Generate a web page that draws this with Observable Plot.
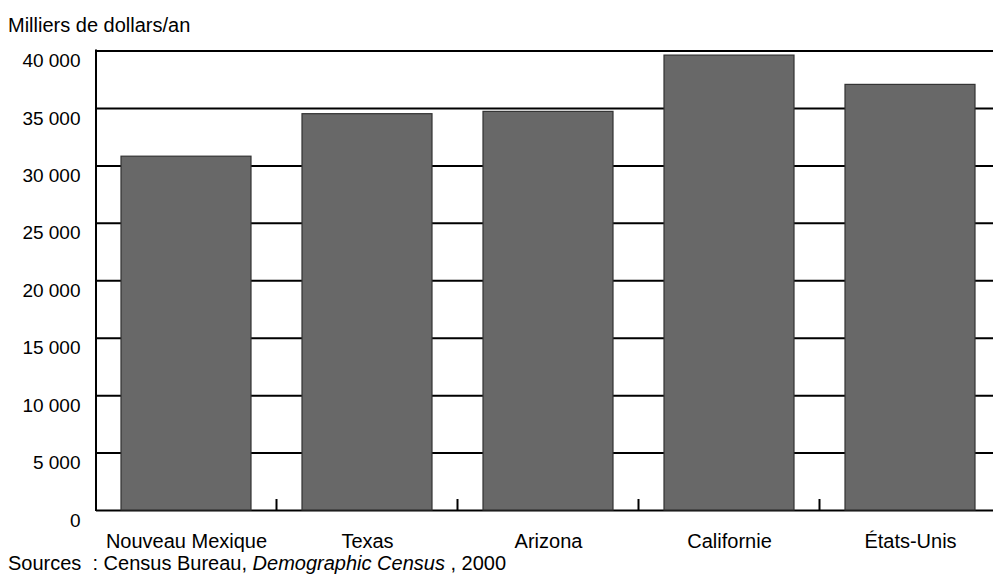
<!DOCTYPE html>
<html>
<head>
<meta charset="utf-8">
<script src="https://cdn.jsdelivr.net/npm/d3@7"></script>
<script src="https://cdn.jsdelivr.net/npm/@observablehq/plot@0.6"></script>
<style>
  html, body { margin: 0; padding: 0; background: #fff; }
  body { width: 993px; height: 574px; overflow: hidden; font-family: "Liberation Sans", Arial, sans-serif; color: #000; }
  #title { height: 40px; box-sizing: border-box; padding-top: 15px; padding-left: 8px; font-size: 20px; line-height: 20px; }
  #source { padding-left: 8px; font-size: 20px; line-height: 18px; white-space: pre; margin-top: -1px; }
  svg { display: block; }
</style>
</head>
<body>
<div id="title">Milliers de dollars/an</div>
<div id="chart"></div>
<div id="source">Sources  : Census Bureau, <i>Demographic Census</i> , 2000</div>
<script>
const categories = ["Nouveau Mexique", "Texas", "Arizona", "Californie", "États-Unis"];
const values = [30800, 34500, 34700, 39600, 37050];
const yTicks = [0, 5000, 10000, 15000, 20000, 25000, 30000, 35000, 40000];

const data = categories.map((c, i) => ({category: c, value: values[i]}));
const fmt = d3.formatLocale({decimal: ",", thousands: " ", grouping: [3], currency: ["", ""]}).format(",");

// Left axis line and small separator ticks between category bands, positioned from the scales
const frameAndSeparators = (index, scales, values, dimensions) => {
  const x = scales.x, y = scales.y;
  const bw = typeof x.bandwidth === "function" ? x.bandwidth() : x.bandwidth;
  const base = y(0);
  const left = dimensions.marginLeft;
  const g = d3.create("svg:g").attr("stroke", "#000").attr("stroke-width", 2);
  g.append("line").attr("x1", left).attr("x2", left).attr("y1", y(40000) - 1).attr("y2", base + 1);
  for (let i = 0; i < categories.length - 1; i++) {
    const xm = (x(categories[i]) + bw + x(categories[i + 1])) / 2;
    g.append("line").attr("x1", xm).attr("x2", xm).attr("y1", base).attr("y2", base - 11);
  }
  return g.node();
};

const chart = Plot.plot({
  width: 993,
  height: 515,
  marginLeft: 96,
  marginRight: -8,
  marginTop: 10.5,
  marginBottom: 45,
  style: {fontFamily: "'Liberation Sans', Arial, sans-serif", fontSize: "20px", color: "#000", background: "#fff"},
  x: {domain: categories, paddingInner: 0.28, paddingOuter: 0.14, label: null},
  y: {domain: [0, 40000], label: null},
  marks: [
    Plot.ruleY(yTicks, {stroke: "#000", strokeWidth: 2}),
    Plot.barY(data, {x: "category", y: "value", fill: "#686868", stroke: "#333", strokeWidth: 1.2}),
    frameAndSeparators,
    Plot.axisY({ticks: yTicks, tickFormat: fmt, tickSize: 0, tickPadding: 16, dy: 10, fontSize: 19, label: null}),
    Plot.axisX({tickSize: 0, tickPadding: 23, fontSize: 20, label: null})
  ]
});
document.getElementById("chart").appendChild(chart);
</script>
</body>
</html>
